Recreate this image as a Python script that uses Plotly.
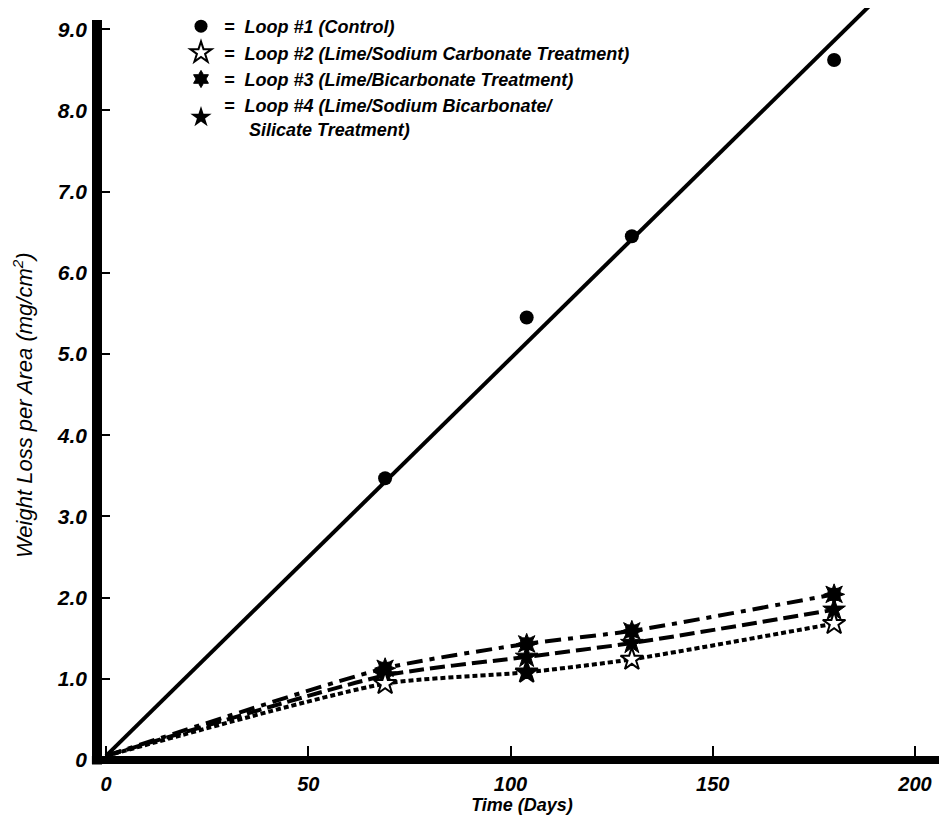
import plotly.graph_objects as go

# ---- data ----
days = [69, 104, 130, 180]
loop1 = [3.47, 5.45, 6.45, 8.62]
loop2 = [0.94, 1.08, 1.24, 1.68]
loop3 = [1.13, 1.43, 1.59, 2.04]
loop4 = [1.04, 1.27, 1.44, 1.85]
loop2_filled = [False, True, False, False]   # the reference prints one filled star

# curves start at the origin
curve_start_day = 0
curve_start_val = 0.05
fit1_days = [0, 189]
fit1_vals = [0.05, 9.3]

x_ticks = [0, 50, 100, 150, 200]
x_ticktext = ["0", "50", "100", "150", "200"]
y_ticks = [0, 1, 2, 3, 4, 5, 6, 7, 8, 9]
y_ticktext = ["0", "1.0", "2.0", "3.0", "4.0", "5.0", "6.0", "7.0", "8.0", "9.0"]

NB = "\u00a0"
legend_names = [
    "=" + NB * 2 + "Loop #1 (Control)",
    "=" + NB * 2 + "Loop #2 (Lime/Sodium Carbonate Treatment)",
    "=" + NB * 2 + "Loop #3 (Lime/Bicarbonate Treatment)",
    "=" + NB * 2 + "Loop #4 (Lime/Sodium Bicarbonate/<br>" + NB * 5 + "Silicate Treatment)",
]
y_title = "Weight Loss per Area (mg/cm<sup>2</sup>)"
x_title = "Time (Days)"

FONT = "Liberation Sans, Arial, sans-serif"
BLK = "black"

fig = go.Figure()

# Loop 1 fitted line + points
fig.add_trace(go.Scatter(x=fit1_days, y=fit1_vals, mode="lines",
                         line=dict(color=BLK, width=4), showlegend=False))
fig.add_trace(go.Scatter(x=days, y=loop1, mode="markers",
                         marker=dict(symbol="circle", size=14, color=BLK),
                         showlegend=False))

# curves for loops 2-4
curves = [
    (loop3, "16px,7px,5px,7px"),
    (loop4, "15px,6px"),
    (loop2, "5px,3px"),
]
for vals, dash in curves:
    fig.add_trace(go.Scatter(x=[curve_start_day] + days, y=[curve_start_val] + vals,
                             mode="lines", line=dict(color=BLK, width=4, dash=dash,
                                                     shape="spline", smoothing=0.6),
                             showlegend=False))

# markers: loop 3 as an 8-point burst (two overlaid 4-point stars)
for sym in ["star-square", "star-diamond"]:
    fig.add_trace(go.Scatter(x=days, y=loop3, mode="markers",
                             marker=dict(symbol=sym, size=15, color=BLK,
                                         line=dict(color=BLK, width=1)), showlegend=False))
fig.add_trace(go.Scatter(x=days, y=loop4, mode="markers",
                         marker=dict(symbol="star", size=17, color=BLK,
                                     line=dict(color=BLK, width=1)), showlegend=False))
fig.add_trace(go.Scatter(x=days, y=loop2, mode="markers",
                         marker=dict(symbol="star", size=17,
                                     color=[BLK if f else "white" for f in loop2_filled],
                                     line=dict(color=BLK, width=2)), showlegend=False))

# legend entries (marker only)
leg_markers = [
    dict(symbol="circle", size=13, color=BLK),
    dict(symbol="star", size=17, color="white", line=dict(color=BLK, width=2)),
    dict(symbol="hexagram", size=13, color=BLK, line=dict(color=BLK, width=1)),
    dict(symbol="star", size=17, color=BLK),
]
for name, mk in zip(legend_names, leg_markers):
    fig.add_trace(go.Scatter(x=[None], y=[None], mode="markers", marker=mk,
                             name=name, showlegend=True))

OFF = 8  # page body margin
W, H = 947 - OFF, 822 - OFF
L = 97 - OFF
plot_bottom = 760 - OFF
B = H - plot_bottom
pw, ph = W - L, plot_bottom
px_per_day = 4.045
x0 = -(106 - 97) / px_per_day
x1 = x0 + pw / px_per_day
px_per_unit = 81.2
y1 = ph / px_per_unit


def px_x(p):  # reference pixel -> paper x
    return (p - OFF - L) / pw


def px_y(p):  # reference pixel -> paper y
    return (plot_bottom - (p - OFF)) / ph


fig.update_layout(
    width=W, height=H,
    margin=dict(l=L, r=0, t=0, b=B, pad=0),
    paper_bgcolor="white", plot_bgcolor="white",
    font=dict(family=FONT, color=BLK),
    showlegend=True,
    legend=dict(x=px_x(178), y=1.0, xanchor="left", yanchor="top",
                bgcolor="rgba(0,0,0,0)",
                font=dict(family=FONT, size=18, style="italic", weight="bold"),
                itemwidth=36, tracegroupgap=0, traceorder="normal"),
    xaxis=dict(range=[x0, x1], tickmode="array", tickvals=x_ticks, ticktext=x_ticktext,
               ticks="inside", ticklen=14, tickwidth=2, tickcolor=BLK,
               showgrid=False, zeroline=False, showline=False, automargin=False,
               ticklabelstandoff=10,
               tickfont=dict(family=FONT, size=20, style="italic", weight="bold"),
               title=dict(text=x_title, standoff=4,
                          font=dict(family=FONT, size=18, style="italic", weight="bold"))),
    yaxis=dict(range=[0, y1], tickmode="array", tickvals=y_ticks, ticktext=y_ticktext,
               ticks="inside", ticklen=13, tickwidth=2, tickcolor=BLK,
               showgrid=False, zeroline=False, showline=False, automargin=False,
               ticklabelstandoff=9,
               tickfont=dict(family=FONT, size=21, style="italic", weight="bold")),
    annotations=[
        dict(text=y_title, textangle=-90, xref="paper", yref="paper",
             x=px_x(23), y=px_y(405), xanchor="center", yanchor="middle",
             showarrow=False, font=dict(family=FONT, size=22, style="italic")),
    ],
    shapes=[
        dict(type="line", xref="paper", yref="paper", x0=0, x1=0,
             y0=-0.006, y1=px_y(20), line=dict(color=BLK, width=10)),
        dict(type="line", xref="paper", yref="paper", x0=-0.006, x1=1.0,
             y0=0, y1=0, line=dict(color=BLK, width=8)),
    ],
)

fig.write_html("out.html")
